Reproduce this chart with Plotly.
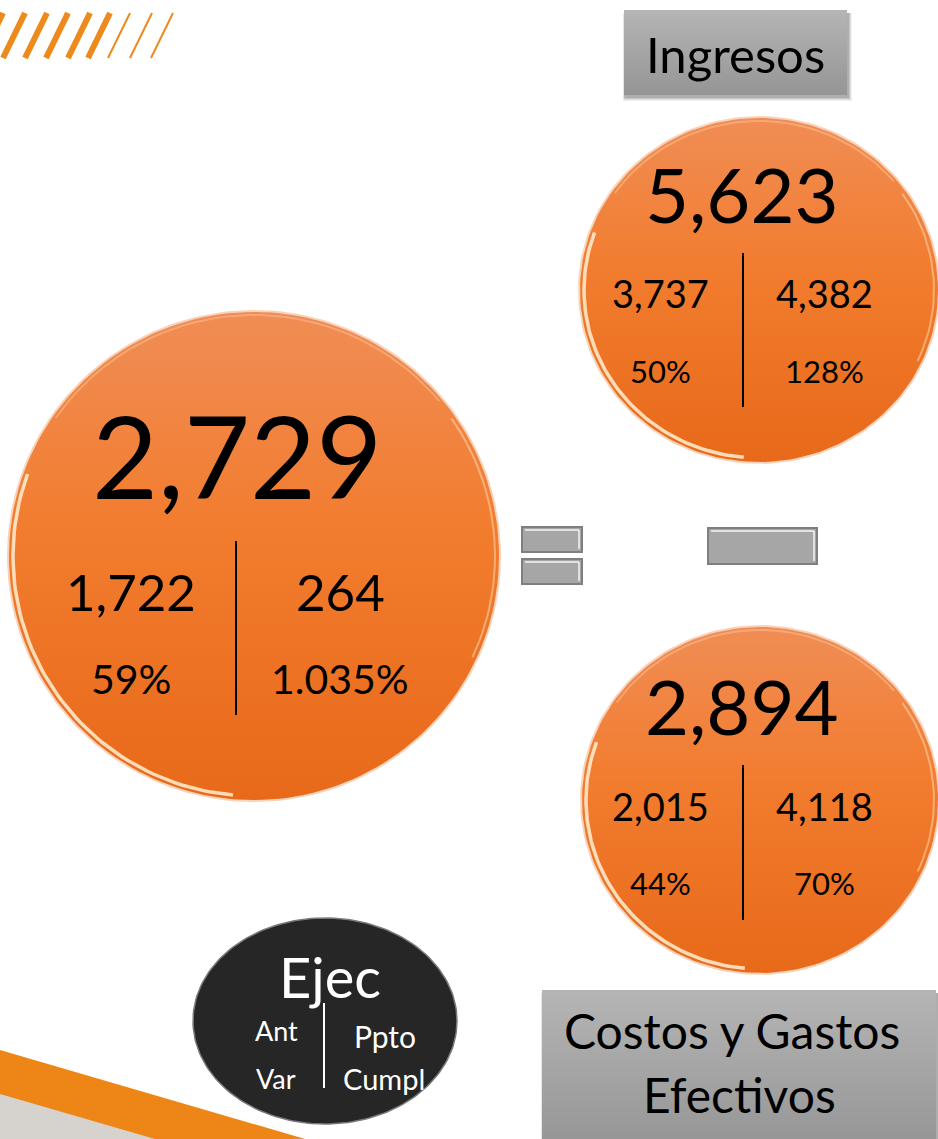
import numpy as np
import plotly.graph_objects as go

W, H = 938, 1139

# ---------------- data ----------------
ejec = [2729, 5623, 2894]          # Ejec (big number)
ant = [1722, 3737, 2015]           # Ant
ppto = [264, 4382, 4118]           # Ppto
var_pct = [59, 50, 44]             # Var %
cumpl_pct = [1035, 128, 70]        # Cumpl %
box_titles = [["Ingresos"], ["Costos y Gastos", "Efectivos"]]
legend_labels = ["Ejec", "Ant", "Ppto", "Var", "Cumpl"]

FONT = "Lato"

# ---------------- layout specs (pixels) ----------------
circ = [
    dict(cx=254, cy=556, rx=245, ry=244, main_x=237, main_y=454, main_s=114,
         lx=131, rx2=340, r1=591, r2=678, sub_s=51, pct_s=41, dx=236, dy0=541, dy1=715),
    dict(cx=759, cy=290, rx=179, ry=172, main_x=742, main_y=193, main_s=76,
         lx=660, rx2=824, r1=293, r2=371, sub_s=38, pct_s=31, dx=743, dy0=253, dy1=407),
    dict(cx=760, cy=800, rx=178, ry=173, main_x=742, main_y=705, main_s=76,
         lx=660, rx2=824, r1=806, r2=883, sub_s=38, pct_s=31, dx=743, dy0=765, dy1=920),
]

fig = go.Figure()
shapes = []
ann = []

# ---- top-left stripes ----
for i, tx in enumerate([3, 25, 47, 68, 90, 110, 130, 152, 173]):
    w = 6 if i < 6 else 2
    shapes.append(dict(type="line", x0=tx, y0=13, x1=tx - 22, y1=58,
                       line=dict(color="#ee8a1c", width=w), layer="below"))

# ---- bottom-left band ----
fig.add_trace(go.Scatter(x=[0, 305, 0, 0], y=[1050, H, H, 1050], mode="lines",
                         fill="toself", fillcolor="#ee8617", line=dict(width=0),
                         hoverinfo="skip", showlegend=False))
fig.add_trace(go.Scatter(x=[0, 155, 0, 0], y=[1094, H, H, 1094], mode="lines",
                         fill="toself", fillcolor="#d6d3ce", line=dict(width=0),
                         hoverinfo="skip", showlegend=False))

th = np.linspace(0, 2 * np.pi, 181)

def ellipse(cx, cy, rx, ry):
    return cx + rx * np.cos(th), cy + ry * np.sin(th)

# ---- orange circles ----
for i, c in enumerate(circ):
    ex, ey = ellipse(c["cx"], c["cy"], c["rx"] + 2, c["ry"] + 2)
    fig.add_trace(go.Scatter(x=ex, y=ey, mode="lines", fill="toself",
                             fillcolor="rgba(235,130,60,0.35)", line=dict(width=0),
                             hoverinfo="skip", showlegend=False))
    ex, ey = ellipse(c["cx"], c["cy"], c["rx"], c["ry"])
    fig.add_trace(go.Scatter(
        x=ex, y=ey, mode="lines", fill="toself", line=dict(width=0),
        fillgradient=dict(type="vertical",
                          colorscale=[[0, "#e8691a"], [0.55, "#f27c2e"], [1, "#f08d55"]]),
        hoverinfo="skip", showlegend=False))
    # glossy rim
    a = np.linspace(np.deg2rad(95), np.deg2rad(200), 60)
    fig.add_trace(go.Scatter(x=c["cx"] + (c["rx"] - 4) * np.cos(a),
                             y=c["cy"] + (c["ry"] - 4) * np.sin(a), mode="lines",
                             line=dict(color="rgba(255,240,210,0.85)", width=3.5),
                             hoverinfo="skip", showlegend=False))
    a = np.linspace(np.deg2rad(-35), np.deg2rad(25), 30)
    fig.add_trace(go.Scatter(x=c["cx"] + (c["rx"] - 4) * np.cos(a),
                             y=c["cy"] + (c["ry"] - 4) * np.sin(a), mode="lines",
                             line=dict(color="rgba(255,236,200,0.45)", width=2),
                             hoverinfo="skip", showlegend=False))
    a = np.linspace(np.deg2rad(215), np.deg2rad(320), 40)
    fig.add_trace(go.Scatter(x=c["cx"] + (c["rx"] - 3) * np.cos(a),
                             y=c["cy"] + (c["ry"] - 3) * np.sin(a), mode="lines",
                             line=dict(color="rgba(255,220,180,0.35)", width=2),
                             hoverinfo="skip", showlegend=False))
    shapes.append(dict(type="line", x0=c["dx"], x1=c["dx"], y0=c["dy0"], y1=c["dy1"],
                       line=dict(color="black", width=2)))
    ann.append(dict(x=c["main_x"], y=c["main_y"], text=f"{ejec[i]:,}",
                    font=dict(size=c["main_s"], color="black", family=FONT)))
    ann.append(dict(x=c["lx"], y=c["r1"], text=f"{ant[i]:,}",
                    font=dict(size=c["sub_s"], color="black", family=FONT)))
    ann.append(dict(x=c["rx2"], y=c["r1"], text=f"{ppto[i]:,}",
                    font=dict(size=c["sub_s"], color="black", family=FONT)))
    ann.append(dict(x=c["lx"], y=c["r2"], text=f"{var_pct[i]}%",
                    font=dict(size=c["pct_s"], color="black", family=FONT)))
    ann.append(dict(x=c["rx2"], y=c["r2"], text=f"{cumpl_pct[i]:,}".replace(",", ".") + "%",
                    font=dict(size=c["pct_s"], color="black", family=FONT)))

# ---- gray title boxes ----
boxes = [dict(x0=624, x1=847, y0=10, y1=95, lines=[(735, 54)], s=49),
         dict(x0=542, x1=936, y0=990, y1=H + 10, lines=[(732, 1030), (739, 1094)], s=48)]
for b, title in zip(boxes, box_titles):
    for k, op in enumerate([0.06, 0.08, 0.10, 0.12]):
        d = 4 - k
        shapes.append(dict(type="rect", x0=b["x0"] + 1 - d * 0.5, x1=b["x1"] + 1 + d,
                           y0=b["y0"] + 3, y1=b["y1"] + 2 + d,
                           fillcolor=f"rgba(0,0,0,{op})", line=dict(width=0), layer="below"))
    fig.add_trace(go.Scatter(
        x=[b["x0"], b["x1"], b["x1"], b["x0"], b["x0"]],
        y=[b["y0"], b["y0"], b["y1"], b["y1"], b["y0"]],
        mode="lines", fill="toself", line=dict(width=0),
        fillgradient=dict(type="vertical", colorscale=[[0, "#959595"], [1, "#b5b5b5"]]),
        hoverinfo="skip", showlegend=False))
    for line_text, (tx, ty) in zip(title, b["lines"]):
        ann.append(dict(x=tx, y=ty, text=line_text,
                        font=dict(size=b["s"], color="black", family=FONT)))

# ---- equals and minus bars ----
bars = [(522, 582, 527, 552), (522, 582, 559, 584), (708, 817, 528, 564)]
for x0, x1, y0, y1 in bars:
    shapes.append(dict(type="rect", x0=x0, x1=x1, y0=y0, y1=y1,
                       fillcolor="#a6a6a6", line=dict(color="#7f7f7f", width=2)))
    shapes.append(dict(type="line", x0=x0 + 3, x1=x1 - 3, y0=y0 + 3, y1=y0 + 3,
                       line=dict(color="#f4f4f4", width=1.5)))
    shapes.append(dict(type="line", x0=x1 - 3, x1=x1 - 3, y0=y0 + 3, y1=y1 - 3,
                       line=dict(color="#f4f4f4", width=1.5)))

# ---- legend ellipse ----
ex, ey = ellipse(325, 1021, 132, 103)
fig.add_trace(go.Scatter(x=ex, y=ey, mode="lines", fill="toself", fillcolor="#262626",
                         line=dict(color="#7a7a7a", width=1.5),
                         hoverinfo="skip", showlegend=False))
shapes.append(dict(type="line", x0=324, x1=324, y0=1003, y1=1088,
                   line=dict(color="white", width=2)))
leg_pos = [(330, 976, 56), (276, 1030, 27), (385, 1036, 30), (276, 1078, 27), (384, 1078, 29)]
for lab, (x, y, s) in zip(legend_labels, leg_pos):
    ann.append(dict(x=x, y=y, text=lab, font=dict(size=s, color="white", family=FONT)))

for a in ann:
    a.update(xref="x", yref="y", showarrow=False, xanchor="center", yanchor="middle")

fig.update_layout(
    width=W, height=H, margin=dict(l=0, r=0, t=0, b=0),
    paper_bgcolor="white", plot_bgcolor="white",
    xaxis=dict(range=[0, W], visible=False, fixedrange=True),
    yaxis=dict(range=[H, 0], visible=False, fixedrange=True),
    shapes=shapes, annotations=ann, showlegend=False,
)
fig.write_html("out.html", config={"displayModeBar": False},
               post_script="document.body.style.margin='0';document.body.style.overflow='hidden';")
